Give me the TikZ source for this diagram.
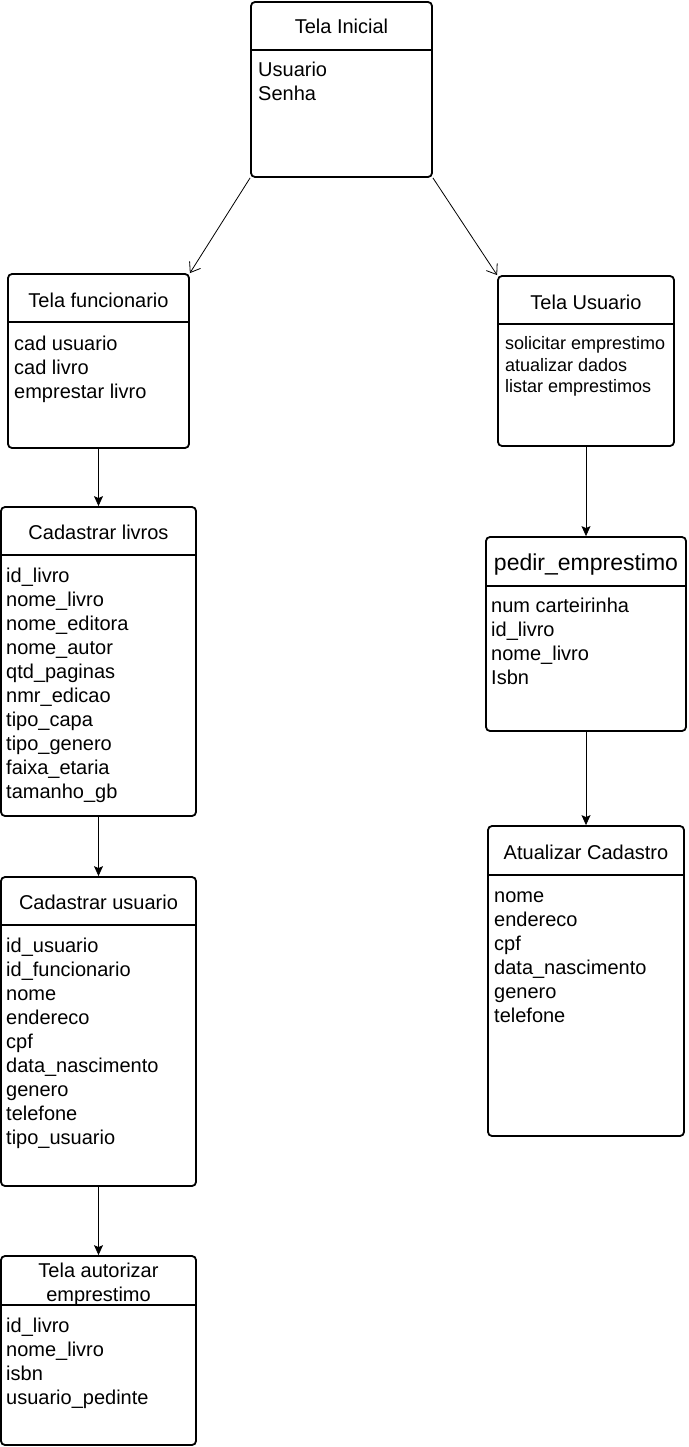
\documentclass[tikz,border=0pt]{standalone}
\usepackage{fontspec}
\setmainfont{Liberation Sans}
\usetikzlibrary{arrows.meta}
\begin{document}
\begin{tikzpicture}[x=1pt,y=-1pt]
\tikzset{
 box/.style={draw, line width=1.8pt, rounded corners=4pt, inner sep=0pt, fill=white},
 hline/.style={line width=1.8pt},
 ttl/.style={font=\fontsize{20}{24}\selectfont, anchor=base, inner sep=0pt},
 bigttl/.style={font=\fontsize{23}{27}\selectfont, anchor=base, inner sep=0pt},
 txt/.style={font=\fontsize{20}{24}\selectfont, anchor=base west, inner sep=0pt},
 stxt/.style={font=\fontsize{18}{21.6}\selectfont, anchor=base west, inner sep=0pt},
 openarr/.style={-{Straight Barb[length=9pt,width=13pt]}, line width=0.8pt},
 farrow/.style={-{Stealth[length=10pt,width=9pt,inset=2pt]}, line width=0.8pt}
}
\useasboundingbox (0,0) rectangle (688,1447);

% boxes
\node[box, minimum width=181pt, minimum height=175pt] (ini) at (341.5,89.5) {};
\node[box, minimum width=181pt, minimum height=174pt] (fun) at (98.5,361) {};
\node[box, minimum width=176pt, minimum height=170pt] (usu) at (586,361) {};
\node[box, minimum width=195pt, minimum height=309pt] (liv) at (98.5,661.5) {};
\node[box, minimum width=195pt, minimum height=309pt] (cus) at (98.5,1031.5) {};
\node[box, minimum width=195pt, minimum height=189pt] (aut) at (98.5,1350.5) {};
\node[box, minimum width=200pt, minimum height=194pt] (ped) at (586,634) {};
\node[box, minimum width=196pt, minimum height=310pt] (atu) at (586,981) {};

% header lines
\draw[hline] ([yshift=-49pt]ini.north west) -- ([yshift=-49pt]ini.north east);
\draw[hline] ([yshift=-49pt]fun.north west) -- ([yshift=-49pt]fun.north east);
\draw[hline] ([yshift=-49pt]usu.north west) -- ([yshift=-49pt]usu.north east);
\draw[hline] ([yshift=-49pt]liv.north west) -- ([yshift=-49pt]liv.north east);
\draw[hline] ([yshift=-49pt]cus.north west) -- ([yshift=-49pt]cus.north east);
\draw[hline] ([yshift=-50pt]aut.north west) -- ([yshift=-50pt]aut.north east);
\draw[hline] ([yshift=-50pt]ped.north west) -- ([yshift=-50pt]ped.north east);
\draw[hline] ([yshift=-50pt]atu.north west) -- ([yshift=-50pt]atu.north east);

% titles
\node[ttl] (ini-t) at (341.5,34) {Tela Inicial};
\node[ttl] (fun-t) at (98.5,307) {Tela funcionario};
\node[ttl] (usu-t) at (586,309) {Tela Usuario};
\node[ttl] (liv-t) at (98.5,539) {Cadastrar livros};
\node[ttl] (cus-t) at (98.5,909) {Cadastrar usuario};
\node[ttl] (aut-t1) at (98.5,1277) {Tela autorizar};
\node[ttl] (aut-t2) at (98.5,1301) {emprestimo};
\node[bigttl] (ped-t) at (586,570) {pedir\_emprestimo};
\node[ttl] (atu-t) at (586,859) {Atualizar Cadastro};

% body texts
\foreach \t [count=\i from 0] in {Usuario,Senha}
  {\node[txt] (ini-\i) at (258,{77+24*\i}) {\t};}
\foreach \t [count=\i from 0] in {cad usuario,cad livro,emprestar livro}
  {\node[txt] (fun-\i) at (14,{350+24*\i}) {\t};}
\foreach \t [count=\i from 0] in {solicitar emprestimo,atualizar dados,listar emprestimos}
  {\node[stxt] (usu-\i) at (505,{349.5+21.5*\i}) {\t};}
\foreach \t [count=\i from 0] in {id\_livro,nome\_livro,nome\_editora,nome\_autor,qtd\_paginas,nmr\_edicao,tipo\_capa,tipo\_genero,faixa\_etaria,tamanho\_gb}
  {\node[txt] (liv-\i) at (6,{582+24*\i}) {\t};}
\foreach \t [count=\i from 0] in {id\_usuario,id\_funcionario,nome,endereco,cpf,data\_nascimento,genero,telefone,tipo\_usuario}
  {\node[txt] (cus-\i) at (6,{952+24*\i}) {\t};}
\foreach \t [count=\i from 0] in {id\_livro,nome\_livro,isbn,usuario\_pedinte}
  {\node[txt] (aut-\i) at (6,{1332+24*\i}) {\t};}
\foreach \t [count=\i from 0] in {num carteirinha,id\_livro,nome\_livro,Isbn}
  {\node[txt] (ped-\i) at (491,{612+24*\i}) {\t};}
\foreach \t [count=\i from 0] in {nome,endereco,cpf,data\_nascimento,genero,telefone}
  {\node[txt] (atu-\i) at (494,{902+24*\i}) {\t};}

% connectors
\draw[openarr] (ini.south west) -- (fun.north east);
\draw[openarr] (ini.south east) -- (usu.north west);
\draw[farrow] (fun.south) -- (liv.north);
\draw[farrow] (liv.south) -- (cus.north);
\draw[farrow] (cus.south) -- (aut.north);
\draw[farrow] (usu.south) -- (ped.north);
\draw[farrow] (ped.south) -- (atu.north);
\end{tikzpicture}
\end{document}
